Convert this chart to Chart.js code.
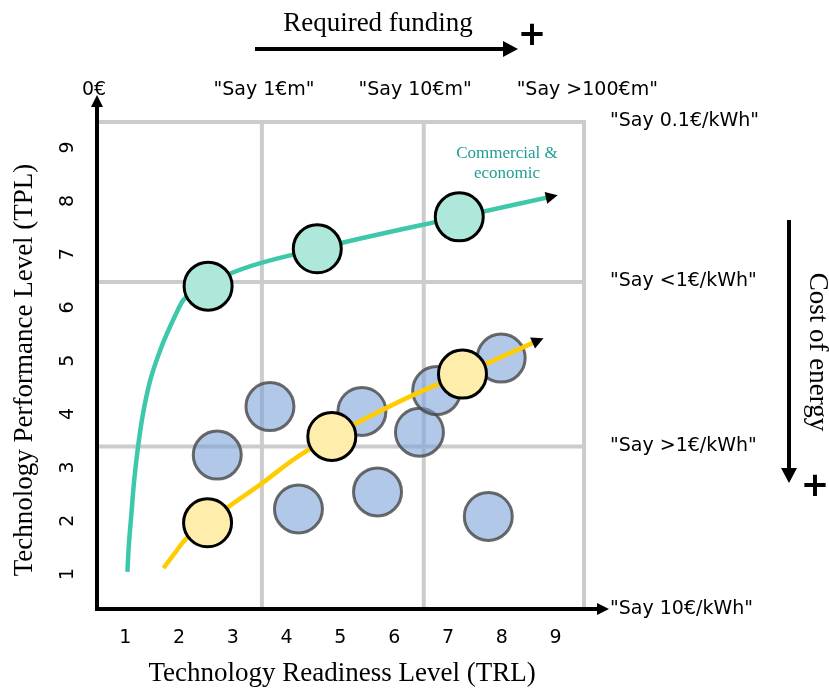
<!DOCTYPE html>
<html>
<head>
<meta charset="utf-8">
<script src="https://cdn.jsdelivr.net/npm/chart.js@4.4.1/dist/chart.umd.min.js"></script>
<style>
  html, body { margin: 0; padding: 0; background: #fff; }
  #wrap { width: 829px; height: 691px; }
</style>
</head>
<body>
<div id="wrap"><canvas id="chart"></canvas></div>
<script>
/* ---- axis ticks ---- */
const trlTicks = [1, 2, 3, 4, 5, 6, 7, 8, 9];
const tplTicks = [1, 2, 3, 4, 5, 6, 7, 8, 9];

/* ---- band edges (grey grid) ---- */
const trlBands = [3.54, 6.55, 9.53];
const tplBands = [3.39, 6.48, 9.48];

/* ---- teal pathway : commercial & economic ---- */
const commercialTrl = [1.04, 1.06, 1.11, 1.16, 1.23, 1.32, 1.45, 1.65, 1.92, 2.08, 2.54, 3.01, 4.57, 7.21, 8.84];
const commercialTpl = [1.04, 1.45, 2.08, 2.70, 3.33, 3.95, 4.58, 5.20, 5.83, 6.14, 6.40, 6.66, 7.10, 7.70, 8.06];
const commercialDotsTrl = [2.54, 4.57, 7.21];
const commercialDotsTpl = [6.40, 7.10, 7.70];

/* ---- yellow pathway ---- */
const pathwayTrl = [1.71, 1.92, 2.11, 2.53, 2.92, 3.54, 4.16, 4.84, 5.30, 6.36, 7.27, 7.72, 8.59];
const pathwayTpl = [1.11, 1.39, 1.64, 1.96, 2.26, 2.70, 3.17, 3.58, 3.83, 4.36, 4.75, 4.95, 5.34];
const pathwayDotsTrl = [2.53, 4.84, 7.27];
const pathwayDotsTpl = [1.96, 3.58, 4.75];

/* ---- other technologies (blue) ---- */
const techTrl = [2.71, 3.69, 4.22, 5.40, 5.69, 6.47, 6.79, 7.99, 7.75];
const techTpl = [3.23, 4.14, 2.22, 4.05, 2.54, 3.66, 4.44, 5.05, 2.08];

/* ---- annotations ---- */
const fundingLabels = ['0€', '"Say 1€m"', '"Say 10€m"', '"Say >100€m"'];
const fundingAt = [0.42, 3.58, 6.39, 9.59];
const costLabels = ['"Say 0.1€/kWh"', '"Say <1€/kWh"', '"Say >1€/kWh"', '"Say 10€/kWh"'];

const pts = (xs, ys) => xs.map((x, i) => ({ x: x, y: ys[i] }));

const SANS = '"DejaVu Sans", Verdana, sans-serif';
const SERIF = '"Liberation Serif", "Times New Roman", serif';

Chart.defaults.font.family = SANS;
Chart.defaults.font.size = 19;
Chart.defaults.color = '#000';

function arrowHead(ctx, x0, y0, x1, y1, len, half) {
    const a = Math.atan2(y1 - y0, x1 - x0);
    ctx.save();
    ctx.translate(x1, y1);
    ctx.rotate(a);
    ctx.beginPath();
    ctx.moveTo(0, 0);
    ctx.lineTo(-len, -half);
    ctx.lineTo(-len, half);
    ctx.closePath();
    ctx.fill();
    ctx.restore();
}

/* arrow at the end of a curve: extends past the last point */
function curveArrow(chart, xs, ys) {
    const sx = chart.scales.x, sy = chart.scales.y, ctx = chart.ctx;
    const n = xs.length;
    const ax = sx.getPixelForValue(xs[n - 2]), ay = sy.getPixelForValue(ys[n - 2]);
    const bx = sx.getPixelForValue(xs[n - 1]), by = sy.getPixelForValue(ys[n - 1]);
    const d = Math.hypot(bx - ax, by - ay);
    const tx = bx + (bx - ax) / d * 11, ty = by + (by - ay) / d * 11;
    ctx.fillStyle = '#000';
    arrowHead(ctx, bx, by, tx, ty, 12, 6);
}

const decor = {
    id: 'decor',
    beforeDatasetsDraw(chart) {
        const { ctx, scales: { x, y } } = chart;
        const left = x.getPixelForValue(x.min), bottom = y.getPixelForValue(y.min);
        const right = x.getPixelForValue(trlBands[2]), top = y.getPixelForValue(tplBands[2]);
        ctx.save();
        ctx.strokeStyle = '#cccccc';
        ctx.lineWidth = 4;
        ctx.lineCap = 'square';
        trlBands.forEach(v => {
            const p = x.getPixelForValue(v);
            ctx.beginPath(); ctx.moveTo(p, top); ctx.lineTo(p, bottom); ctx.stroke();
        });
        tplBands.forEach(v => {
            const p = y.getPixelForValue(v);
            ctx.beginPath(); ctx.moveTo(left, p); ctx.lineTo(right, p); ctx.stroke();
        });
        ctx.restore();
    },
    afterDatasetsDraw(chart) {
        const ctx = chart.ctx;
        ctx.save();
        curveArrow(chart, commercialTrl, commercialTpl);
        curveArrow(chart, pathwayTrl, pathwayTpl);
        ctx.restore();
    },
    afterDraw(chart) {
        const { ctx, chartArea: ca, scales: { x, y } } = chart;
        const ox = ca.left, oy = ca.bottom;
        ctx.save();
        ctx.fillStyle = '#000';
        ctx.strokeStyle = '#000';
        ctx.lineWidth = 4;

        // main axes with arrows
        ctx.beginPath(); ctx.moveTo(ox - 2, oy); ctx.lineTo(ca.right - 12, oy); ctx.stroke();
        arrowHead(ctx, ox, oy, ca.right - 1, oy, 12, 6);
        ctx.beginPath(); ctx.moveTo(ox, oy + 2); ctx.lineTo(ox, ca.top + 12); ctx.stroke();
        arrowHead(ctx, ox, oy, ox, ca.top + 1, 12, 6);

        // required funding arrow
        ctx.beginPath(); ctx.moveTo(255, 49); ctx.lineTo(504, 49); ctx.stroke();
        arrowHead(ctx, 255, 49, 518, 49, 15, 8);
        // cost of energy arrow
        ctx.beginPath(); ctx.moveTo(789, 220); ctx.lineTo(789, 468); ctx.stroke();
        arrowHead(ctx, 789, 220, 789, 483, 15, 8);

        // plus signs
        ctx.font = 'bold 34px ' + SANS;
        ctx.textAlign = 'center';
        ctx.textBaseline = 'middle';
        ctx.fillText('+', 532, 36);
        ctx.fillText('+', 815, 487);

        // axis titles
        ctx.font = '27px ' + SERIF;
        ctx.textBaseline = 'alphabetic';
        ctx.fillText('Technology Readiness Level (TRL)', 342, 681);
        ctx.fillText('Required funding', 378, 31);
        ctx.save();
        ctx.translate(32, 370);
        ctx.rotate(-Math.PI / 2);
        ctx.fillText('Technology Performance Level (TPL)', 0, 0);
        ctx.restore();
        ctx.save();
        ctx.translate(810, 352);
        ctx.rotate(Math.PI / 2);
        ctx.fillText('Cost of energy', 0, 0);
        ctx.restore();

        // teal caption
        ctx.fillStyle = '#1f9e90';
        ctx.font = '17px ' + SERIF;
        ctx.fillText('Commercial &', 507, 158);
        ctx.fillText('economic', 507, 178);

        // funding labels over the grid
        ctx.fillStyle = '#000';
        ctx.font = '19px ' + SANS;
        fundingLabels.forEach((t, i) => ctx.fillText(t, x.getPixelForValue(fundingAt[i]), 95));

        // cost of energy labels along the grid rows
        ctx.textAlign = 'left';
        const rows = [tplBands[2], tplBands[1], tplBands[0], y.min];
        costLabels.forEach((t, i) => ctx.fillText(t, 610, y.getPixelForValue(rows[i]) + 4.5));
        ctx.restore();
    }
};

const bubble = {
    pointRadius: 24,
    pointHoverRadius: 24,
    borderWidth: 3,
    pointBorderWidth: 3,
    showLine: false
};

const tickFont = { family: SANS, size: 19 };

new Chart(document.getElementById('chart'), {
    type: 'scatter',
    data: {
        datasets: [
            {
                label: 'Commercial milestones',
                data: pts(commercialDotsTrl, commercialDotsTpl),
                backgroundColor: '#aee8da',
                borderColor: '#000',
                ...bubble,
                order: 0
            },
            {
                label: 'Pathway milestones',
                data: pts(pathwayDotsTrl, pathwayDotsTpl),
                backgroundColor: '#ffedab',
                borderColor: '#000',
                ...bubble,
                order: 0
            },
            {
                label: 'Commercial & economic',
                data: pts(commercialTrl, commercialTpl),
                showLine: true,
                borderColor: '#3cc8a9',
                borderWidth: 4.5,
                pointRadius: 0,
                cubicInterpolationMode: 'monotone',
                order: 1
            },
            {
                label: 'Pathway',
                data: pts(pathwayTrl, pathwayTpl),
                showLine: true,
                borderColor: '#ffcc00',
                borderWidth: 4.5,
                pointRadius: 0,
                cubicInterpolationMode: 'monotone',
                order: 1
            },
            {
                label: 'Technologies',
                data: pts(techTrl, techTpl),
                backgroundColor: 'rgba(120,160,215,0.58)',
                borderColor: 'rgba(70,70,70,0.8)',
                ...bubble,
                order: 2
            }
        ]
    },
    options: {
        responsive: true,
        maintainAspectRatio: false,
        animation: false,
        events: [],
        layout: { padding: { left: 0, right: 219, top: 94, bottom: 0 } },
        plugins: {
            legend: { display: false },
            tooltip: { enabled: false }
        },
        scales: {
            x: {
                type: 'linear',
                min: 0.474,
                max: 10.013,
                grid: { display: false },
                border: { display: false },
                afterFit: s => { s.height = 82; },
                afterBuildTicks: s => { s.ticks = trlTicks.map(v => ({ value: v })); },
                ticks: { autoSkip: false, padding: 10, color: '#000', font: tickFont }
            },
            y: {
                type: 'linear',
                min: 0.343,
                max: 10.005,
                grid: { display: false },
                border: { display: false },
                afterFit: s => { s.width = 97; },
                afterBuildTicks: s => { s.ticks = tplTicks.map(v => ({ value: v })); },
                ticks: {
                    autoSkip: false, padding: 15, minRotation: 90, maxRotation: 90,
                    crossAlign: 'center', color: '#000', font: tickFont
                }
            }
        }
    },
    plugins: [decor]
});
</script>
</body>
</html>
